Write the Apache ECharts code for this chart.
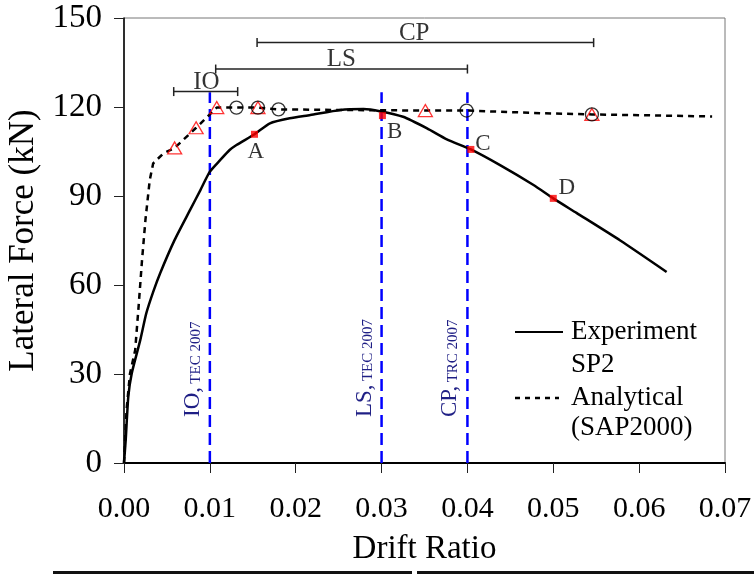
<!DOCTYPE html>
<html><head><meta charset="utf-8">
<script src="https://cdn.jsdelivr.net/npm/echarts@6/dist/echarts.min.js"></script>
<style>html,body{margin:0;padding:0;background:#fff}#c{width:754px;height:574px}</style>
</head><body><div id="c"></div>
<script>
// Experiment SP2 (solid)
const expX = [0, 0.0002, 0.0005, 0.0009, 0.0019, 0.0026, 0.0034, 0.0042, 0.0059, 0.0077, 0.0089, 0.0100, 0.0112, 0.0123, 0.0131, 0.0152, 0.0170, 0.0193, 0.0217, 0.0252, 0.0279, 0.0298, 0.0325, 0.0353, 0.0376, 0.0404, 0.0438, 0.0477, 0.0500, 0.0527, 0.0578, 0.0632];
const expY = [0, 7.8, 22.4, 30.2, 41.5, 50.5, 57.7, 63.9, 75.2, 85.3, 92, 98.2, 102.1, 105.5, 107.2, 110.8, 114.5, 116.2, 117.3, 119, 119.3, 118.6, 116.7, 112.8, 109.1, 105.7, 100.4, 93.7, 89.2, 84.3, 75, 64.4];
// Analytical (SAP2000) (dashed)
const anaX = [0, 0.0003, 0.0007, 0.0013, 0.0017, 0.0021, 0.0025, 0.0030, 0.0034, 0.0046, 0.0059, 0.0084, 0.0108, 0.0131, 0.0156, 0.0180, 0.0250, 0.0351, 0.0399, 0.0488, 0.0545, 0.0590, 0.0685];
const anaY = [0, 18, 30.2, 38, 52.7, 68.4, 82, 95.4, 101, 104.4, 106.2, 113, 119.8, 119.8, 119.8, 119.2, 119, 118.8, 118.8, 117.9, 117.5, 117.3, 116.8];
// hinge markers on analytical curve
const triX = [0.0059, 0.0084, 0.0108, 0.0156, 0.0351, 0.0545];
const triY = [106.2, 113, 119.8, 119.8, 118.8, 117.5];
const cirX = [0.0131, 0.0156, 0.0180, 0.0399, 0.0545];
const cirY = [119.8, 119.8, 119.2, 118.8, 117.5];
// performance points A-D
const ptX = [0.0152, 0.0301, 0.0404, 0.0500];
const ptY = [110.8, 117.1, 105.7, 89.2];
const ptNames = ['A', 'B', 'C', 'D'];
// code limit drift lines
const limX = [0.01, 0.03, 0.04];
const limTop = 125;
const limMain = ['IO,', 'LS,', 'CP,'];
const limSub = ['TEC 2007', 'TEC 2007', 'TRC 2007'];
// range bars
const rngNames = ['IO', 'LS', 'CP'];
const rngStart = [0.00579, 0.01068, 0.0155];
const rngEnd = [0.01324, 0.0400, 0.0547];
const rngY = [125.2, 132.8, 141.7];
const rngLabelX = [0.0096, 0.0253, 0.0338];
// axes
const xTicks = [0, 0.01, 0.02, 0.03, 0.04, 0.05, 0.06, 0.07];
const yTicks = [0, 30, 60, 90, 120, 150];

const F = 'Liberation Serif';
const zip = (xs, ys) => xs.map((x, i) => [x, ys[i]]);
const chart = echarts.init(document.getElementById('c'));

const series = [];
limX.forEach((x, i) => series.push({
  type: 'line', data: [[x, 0], [x, limTop]], symbol: 'none', z: 2,
  lineStyle: { color: '#0000ff', width: 2.5, type: [12, 6] }, silent: true
}));
series.push({ name: 'Experiment', type: 'line', data: zip(expX, expY), symbol: 'none', smooth: 0.2, z: 3,
  lineStyle: { color: '#000', width: 2.5 } });
series.push({ name: 'Analytical', type: 'line', data: zip(anaX, anaY), symbol: 'none', z: 3,
  lineStyle: { color: '#000', width: 2.5, type: [6, 5] } });
series.push({ type: 'scatter', data: zip(triX, triY), symbol: 'triangle', symbolSize: [14, 12], z: 4,
  itemStyle: { color: 'rgba(0,0,0,0)', borderColor: '#ff0000', borderWidth: 1.3 } });
series.push({ type: 'scatter', data: zip(cirX, cirY), symbol: 'circle', symbolSize: 13, z: 4,
  itemStyle: { color: 'rgba(0,0,0,0)', borderColor: '#000', borderWidth: 1.3 } });
const ptOff = [[1.4, 18], [12.3, 16], [12, -5], [13.4, -10]];
series.push({ type: 'scatter', symbol: 'rect', symbolSize: 7, z: 5,
  itemStyle: { color: '#ff0000' },
  data: ptX.map((x, i) => ({ value: [x, ptY[i]], label: { offset: ptOff[i] } })),
  label: { show: true, position: 'inside', formatter: p => ptNames[p.dataIndex],
    fontFamily: F, fontSize: 23, color: '#000' } });
rngNames.forEach((n, i) => series.push({
  type: 'line', data: [[rngStart[i], rngY[i]], [rngEnd[i], rngY[i]]], symbol: 'rect', symbolSize: [1.5, 9],
  itemStyle: { color: '#222' }, lineStyle: { color: '#222', width: 1.5 }, z: 3
}));
series.push({ type: 'scatter', symbolSize: 0, z: 5,
  data: rngLabelX.map((x, i) => [x, rngY[i]]),
  label: { show: true, position: 'top', distance: -3, formatter: p => rngNames[p.dataIndex],
    fontFamily: F, fontSize: 25, color: '#000' } });

chart.setOption({
  animation: false,
  grid: { left: 124, right: 29, top: 18, bottom: 111, show: true, borderColor: '#777', borderWidth: 1, outerBoundsMode: 'none' },
  xAxis: { type: 'value', min: 0, max: 0.07, interval: 0.01,
    name: 'Drift Ratio', nameLocation: 'middle', nameGap: 70,
    nameTextStyle: { fontFamily: F, fontSize: 33, color: '#000' },
    axisLine: { lineStyle: { color: '#000', width: 2 } },
    axisTick: { show: true, length: 10, inside: false, lineStyle: { color: '#222', width: 1 } },
    axisLabel: { fontFamily: F, fontSize: 30, color: '#000', margin: 31,
      formatter: v => { const t = xTicks.find(k => Math.abs(k - v) < 1e-9); return t === undefined ? '' : t.toFixed(2); } },
    splitLine: { show: false } },
  yAxis: { type: 'value', min: 0, max: 150, interval: 30,
    name: 'Lateral Force (kN)', nameLocation: 'middle', nameGap: 77,
    nameTextStyle: { fontFamily: F, fontSize: 35, color: '#000' },
    axisLine: { lineStyle: { color: '#000', width: 1.5 } },
    axisTick: { show: true, length: 10, lineStyle: { color: '#222', width: 1 } },
    axisLabel: { fontFamily: F, fontSize: 33, color: '#000', margin: 22,
      formatter: v => yTicks.includes(v) ? String(v) : '' },
    splitLine: { show: false } },
  series: series
});

// annotations: rotated labels next to code-limit lines + legend
const g = [];
limX.forEach((x, i) => {
  const p = chart.convertToPixel({ gridIndex: 0 }, [x, 15.5]);
  g.push({ type: 'text', x: p[0] - 17, y: p[1], rotation: Math.PI / 2, z: 10,
    style: { text: '{a|' + limMain[i] + '} {b|' + limSub[i] + '}', align: 'left', verticalAlign: 'middle',
      rich: { a: { fontFamily: F, fontSize: 23, fill: '#1f1f85', verticalAlign: 'bottom' },
              b: { fontFamily: F, fontSize: 15, fill: '#1f1f85', verticalAlign: 'bottom', padding: [0, 0, 1, 0] } } } });
});
// legend
g.push({ type: 'line', shape: { x1: 515, y1: 332, x2: 563, y2: 332 }, style: { stroke: '#000', lineWidth: 2 }, z: 10 });
g.push({ type: 'line', shape: { x1: 515, y1: 398, x2: 559, y2: 398 }, style: { stroke: '#000', lineWidth: 2.5, lineDash: [5, 5] }, z: 10 });
[['Experiment', 332], ['SP2', 365], ['Analytical', 398], ['(SAP2000)', 428]].forEach(t => {
  g.push({ type: 'text', x: 571, y: t[1], z: 10,
    style: { text: t[0], fontFamily: F, fontSize: 27, fill: '#000', align: 'left', verticalAlign: 'middle' } });
});
// page border remnants at bottom
g.push({ type: 'rect', shape: { x: 53, y: 571, width: 359, height: 3 }, style: { fill: '#111' }, z: 10 });
g.push({ type: 'rect', shape: { x: 417, y: 571, width: 337, height: 3 }, style: { fill: '#111' }, z: 10 });
chart.setOption({ graphic: g });
</script>
</body></html>
